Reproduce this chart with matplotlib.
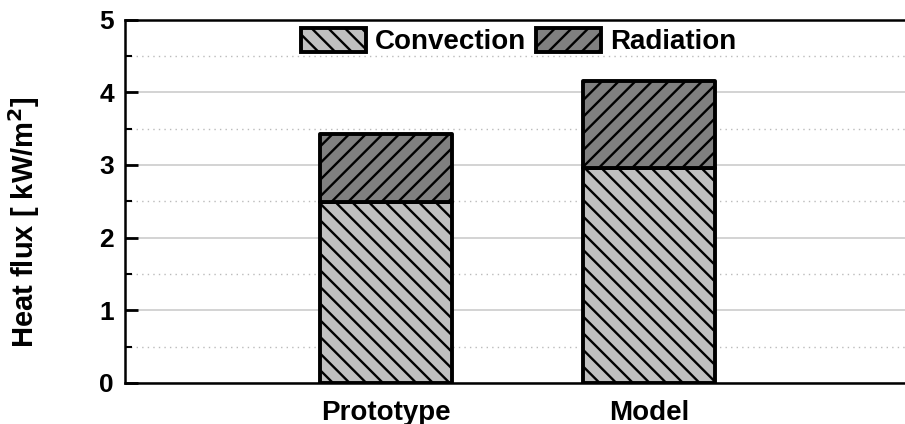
import matplotlib
matplotlib.use("Agg")
import matplotlib.pyplot as plt
from matplotlib.ticker import MultipleLocator

categories = ["Prototype", "Model"]
convection = [2.49, 2.96]
radiation = [0.94, 1.20]
y_ticks = [0, 1, 2, 3, 4, 5]

plt.rcParams['font.family'] = ['Liberation Sans', 'DejaVu Sans']
plt.rcParams['hatch.linewidth'] = 1.7

fig = plt.figure(figsize=(9.05, 4.24), dpi=100)
ax = fig.add_axes([0.138, 0.0967, 0.87, 0.857])

x = list(range(len(categories)))
w = 0.5
b1 = ax.bar(x, convection, width=w, color="#c0c0c0", edgecolor="black",
            linewidth=2.8, hatch="\\\\", label="Convection", zorder=3,
            joinstyle="round")
b2 = ax.bar(x, radiation, width=w, bottom=convection, color="#808080",
            edgecolor="black", linewidth=2.8, hatch="//", label="Radiation",
            zorder=3, joinstyle="round")

ax.set_xlim(-0.992, 2.0)
ax.set_ylim(0, 5)
ax.set_yticks(y_ticks)
ax.yaxis.set_minor_locator(MultipleLocator(0.5))
ax.set_xticks(x)
ax.set_xticklabels(categories, fontsize=20, fontweight="bold")
ax.set_yticklabels([str(t) for t in y_ticks], fontsize=19, fontweight="bold")
ax.tick_params(axis="y", which="major", direction="in", length=9, width=2, pad=8)
ax.tick_params(axis="y", which="minor", direction="in", length=5, width=1.5)
ax.tick_params(axis="x", which="both", length=0, pad=12)

ax.grid(axis="y", which="major", color="#cccccc", linewidth=1.2, zorder=0)
ax.grid(axis="y", which="minor", color="#bbbbbb", linewidth=1.0,
        linestyle=(0, (1, 3)), zorder=0)

for s in ["left", "top", "bottom"]:
    ax.spines[s].set_linewidth(1.8)
ax.spines["right"].set_visible(False)

ax.set_ylabel("Heat flux [ kW/m$^\\mathbf{2}$]", fontsize=21, fontweight="bold")
ax.yaxis.set_label_coords(-0.105, 0.443)

leg = ax.legend(loc="upper center", bbox_to_anchor=(0.5, 1.0), ncol=2,
                frameon=False, handlelength=2.35, handleheight=0.95,
                handletextpad=0.3, columnspacing=0.36, borderaxespad=0.0,
                borderpad=0.3, prop={"weight": "bold", "size": 20})

fig.savefig("out.png", dpi=100)
